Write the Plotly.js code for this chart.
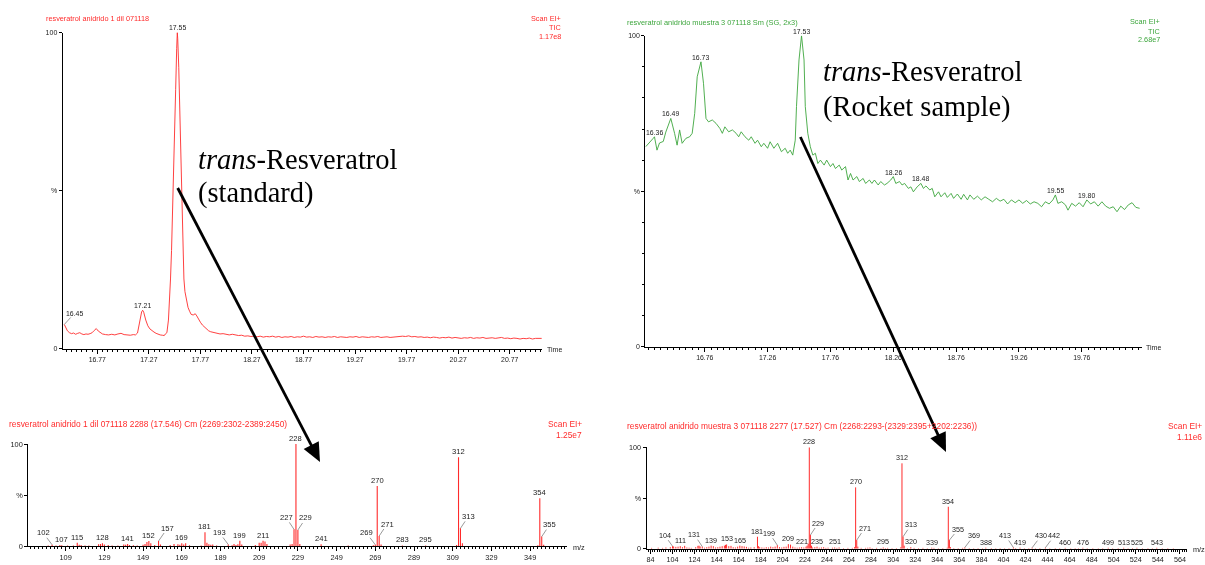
<!DOCTYPE html>
<html><head><meta charset="utf-8">
<script src="https://cdn.plot.ly/plotly-3.0.1.min.js"></script>
<style>html,body{margin:0;padding:0;background:#fff}#chart{width:1205px;height:565px;will-change:transform}
#chart svg{will-change:transform}</style>
</head><body><div id="chart"></div>
<script>
// ---------- DATA ----------
// Standard chromatogram (TIC), time in min, intensity in %
const stdTime = [16.45,16.46,16.48,16.50,16.52,16.54,16.56,16.58,16.60,16.62,
16.64,16.66,16.68,16.70,16.72,16.74,16.76,16.78,16.80,16.82,
16.85,16.88,16.91,16.94,16.97,17.00,17.03,17.06,17.09,17.12,
17.14,17.16,17.18,17.20,17.21,17.22,17.24,17.26,17.28,17.30,
17.32,17.34,17.36,17.38,17.40,17.42,17.43,17.445,17.46,17.47,
17.48,17.49,17.50,17.51,17.52,17.53,17.54,17.546,17.55,17.56,
17.57,17.58,17.59,17.60,17.61,17.62,17.635,17.65,17.665,17.68,
17.70,17.72,17.735,17.75,17.77,17.79,17.81,17.83,17.85,17.87,
17.90,17.93,17.96,17.99,18.02,18.05,18.08,18.11,18.14,18.17,
18.20,18.23,18.26,18.29,18.32,18.35,18.38,18.41,18.44,18.47,
18.50,18.53,18.56,18.59,18.62,18.65,18.68,18.71,18.74,18.77,
18.80,18.83,18.86,18.89,18.92,18.95,18.98,19.01,19.04,19.07,
19.10,19.13,19.16,19.19,19.22,19.25,19.28,19.31,19.34,19.37,
19.40,19.43,19.46,19.49,19.52,19.55,19.58,19.61,19.64,19.67,
19.70,19.73,19.76,19.79,19.82,19.85,19.88,19.91,19.94,19.97,
20.00,20.03,20.06,20.09,20.12,20.15,20.18,20.21,20.24,20.27,
20.30,20.33,20.36,20.39,20.42,20.45,20.48,20.51,20.54,20.57,
20.60,20.63,20.66,20.69,20.72,20.75,20.78,20.81,20.84,20.87,
20.90,20.93,20.96,20.99,21.02,21.05,21.08];
const stdTic = [7.6,6.8,5.6,5.0,4.7,4.9,4.5,4.8,5.0,4.6,
4.4,4.6,4.5,4.7,5.0,5.7,6.3,5.5,4.9,4.6,
4.4,4.3,4.5,4.3,4.6,4.8,4.4,4.3,4.2,4.4,
4.3,4.9,8.9,11.6,12.1,11.5,9.0,7.2,6.2,5.6,
5.2,4.8,4.5,4.3,4.2,4.1,4.6,5.0,9,14,
22,31,42,53,68,82,95,100,98,89,
74,57,42,30,22,18,15,13,11.8,10.8,
10.6,11.0,10.3,9.2,8.3,7.4,6.8,6.1,5.6,5.3,
5.0,4.8,4.6,4.7,4.4,4.3,4.5,4.2,4.1,4.2,
3.9,4.0,3.8,3.9,3.7,3.9,3.6,3.8,3.7,3.9,
3.6,3.8,3.5,3.7,3.6,3.8,3.5,3.7,3.6,3.9,
3.6,3.7,3.5,3.8,3.6,3.7,3.5,3.7,3.6,3.8,
3.5,3.7,3.6,3.5,3.7,3.6,3.8,3.5,3.7,3.6,
3.5,3.7,3.6,3.8,3.5,3.6,3.7,3.5,3.6,3.8,
3.7,3.9,3.8,4.0,3.7,3.8,3.6,3.7,3.5,3.6,
3.4,3.6,3.5,3.3,3.5,3.4,3.6,3.3,3.5,3.4,
3.2,3.4,3.3,3.5,3.2,3.4,3.3,3.5,3.2,3.3,
3.4,3.2,3.3,3.5,3.2,3.3,3.1,3.3,3.2,3.0,
3.2,3.1,3.3,3.0,3.2,3.1,3.2];
const stdPeakLabels = [16.45, 17.21, 17.55];

// Rocket sample chromatogram (TIC)
const smpTime = [16.29,16.32,16.35,16.36,16.38,16.40,16.43,16.45,16.49,16.52,
16.54,16.56,16.58,16.61,16.64,16.66,16.68,16.70,16.73,16.75,
16.77,16.79,16.82,16.85,16.88,16.90,16.92,16.95,16.98,17.01,
17.03,17.05,17.08,17.11,17.13,17.16,17.18,17.21,17.23,17.26,
17.28,17.31,17.34,17.37,17.40,17.42,17.44,17.46,17.48,17.49,
17.51,17.53,17.55,17.56,17.58,17.60,17.62,17.64,17.66,17.68,
17.71,17.73,17.76,17.78,17.80,17.83,17.85,17.88,17.90,17.92,
17.94,17.97,17.99,18.02,18.04,18.07,18.09,18.11,18.14,18.16,
18.19,18.21,18.24,18.26,18.28,18.31,18.33,18.35,18.38,18.40,
18.42,18.45,18.48,18.50,18.52,18.55,18.57,18.59,18.62,18.64,
18.67,18.69,18.72,18.74,18.77,18.80,18.82,18.85,18.87,18.90,
18.93,18.96,18.99,19.02,19.05,19.08,19.11,19.14,19.17,19.20,
19.23,19.26,19.29,19.32,19.35,19.38,19.41,19.44,19.47,19.50,
19.53,19.55,19.57,19.60,19.63,19.65,19.68,19.71,19.74,19.77,
19.80,19.83,19.86,19.89,19.92,19.95,19.98,20.01,20.04,20.07,
20.10,20.13,20.16,20.19,20.22];
const smpTic = [64.3,65.5,67,67.5,63.2,65.5,66,69,73.4,68.6,
64.8,69.7,65.4,67,67.5,68.6,75,86.8,91.6,84.7,
73.4,72.3,72.9,71.8,70.2,68.6,70.7,69.1,69.7,68.6,
67.5,69.1,67.5,66.4,67.5,65.4,66.4,64.3,65.4,63.8,
65.9,63.8,65.4,62.7,63.8,62.2,63.2,61.6,66.4,77.2,
92.2,100,92.2,77.2,68.6,64.3,61.6,62.2,58.9,60,
58.4,60,57.9,58.9,57.3,58.4,56.8,57.9,53.6,55.7,
53.6,54.7,53.1,54.1,52.5,53.6,52.5,53.6,52,53.1,
52,52.5,53.6,54.7,52.5,53.1,52,52.5,50.9,51.4,
49.8,51.4,52.5,50.9,51.7,50.4,50.9,48.2,49.8,48.2,
49.5,48,49.3,47.7,49.1,47.4,49,47.2,48.8,47.4,
48.4,47.2,48.2,47.4,46.6,47.7,46.8,47.4,45.9,47.2,
46.3,47.2,46.1,47,45.9,46.6,46.1,45,46.6,45.9,
47.2,48.8,46.1,46.6,45.6,43.9,46.1,45.2,46.3,45,
47.2,45.9,46.6,45.2,46.6,45.2,44.5,45,43.4,45.2,
44.1,45.6,46.3,44.8,44.5];
const smpPeakLabels = [16.36, 16.49, 16.73, 17.53, 18.26, 18.48, 19.55, 19.80];

// Standard mass spectrum (scan 2288)
const stdMz = [100,102,104,106,107,110,113,115,116,117,
119,121,126,127,128,129,131,133,136,139,
140,141,142,144,146,149,150,151,152,153,
155,157,158,163,165,167,168,169,170,171,
173,179,181,182,183,184,185,187,193,195,
196,197,198,199,200,207,209,210,211,212,
213,225,226,227,228,229,230,241,255,268,
269,270,271,272,283,295,311,312,313,314,
353,354,355,356];
const stdInt = [0.6,1.2,0.5,1.0,0.8,0.5,0.6,3.3,1.2,1.0,
0.6,0.4,1.6,2.0,2.6,1.4,1.0,0.6,0.5,1.5,
1.2,2.0,1.0,0.8,0.6,1.2,2.0,3.9,4.9,2.6,
1.0,4.9,1.5,1.0,2.0,1.6,1.2,2.6,1.5,2.6,
0.8,0.6,13.4,3.3,1.8,1.2,1.5,0.6,1.5,0.8,
2.0,1.0,1.6,5.2,1.5,1.0,3.3,3.3,5.2,4.5,
2.0,1.5,2.0,16.3,100,15.7,2.0,1.6,0.5,0.8,
1.2,58.8,9.8,1.5,0.6,0.6,1.0,86.9,17.3,2.6,
0.8,46.7,9.2,1.2];
const stdMzLabels = [102,107,115,128,141,152,157,169,181,193,199,211,227,228,229,241,269,270,271,283,295,312,313,354,355];

// Rocket sample mass spectrum (scan 2277)
const smpMz = [85,91,95,98,102,104,105,107,109,111,
113,115,117,119,121,125,127,128,129,131,
133,135,137,139,141,143,145,147,149,151,
152,153,155,157,159,161,163,165,167,169,
171,173,175,178,181,182,183,185,187,189,
191,193,195,197,199,201,203,205,207,209,
211,213,215,217,219,221,223,225,226,227,
228,229,230,231,233,235,237,239,241,243,
245,249,251,253,255,259,263,267,269,270,
271,272,275,279,281,283,285,289,293,295,
297,299,303,307,311,312,313,314,317,320,
323,327,331,335,339,341,345,349,353,354,
355,356,359,363,367,369,373,377,381,385,
388,393,397,401,405,409,413,415,419,423,
427,430,433,437,442,446,451,455,460,465,
469,472,476,480,485,490,494,499,503,508,
513,517,521,525,530,535,539,543,548,553,
558];
const smpInt = [0.8,1.0,0.8,1.2,1.5,2.5,2.2,1.8,2.0,2.5,
1.5,2.8,1.2,1.0,0.8,1.5,2.8,3.0,2.2,2.0,
1.0,1.5,2.0,3.0,2.5,1.2,1.5,2.0,2.5,3.0,
3.8,4.2,2.5,2.8,1.5,1.2,2.0,3.0,2.5,2.2,
1.8,1.0,1.2,1.5,11.8,2.5,1.5,1.2,1.0,1.5,
1.2,2.0,1.5,2.0,3.5,1.5,1.2,1.8,2.0,4.5,
4.0,2.0,1.2,1.0,1.2,1.5,1.2,2.0,3.0,5.0,
100,13.5,3.0,1.2,1.5,2.0,1.0,1.2,1.5,0.8,
1.0,1.0,1.2,0.8,1.2,0.6,0.8,0.8,1.5,60.5,
8.5,2.0,0.8,0.8,1.0,1.2,0.6,0.8,0.6,1.2,
0.6,0.8,0.6,0.6,1.5,84.2,11.8,3.0,0.6,1.5,
0.8,0.6,0.8,0.5,1.0,0.8,0.5,0.6,1.0,41.4,
8.5,1.5,0.6,0.6,0.8,1.2,0.6,0.5,0.6,0.5,
1.0,0.6,0.5,0.6,0.5,0.6,1.2,0.6,1.0,0.5,
0.6,1.0,0.5,0.6,1.0,0.5,0.6,0.5,0.8,0.5,
0.6,0.5,0.9,0.5,0.6,0.5,0.6,0.9,0.5,0.6,
0.9,0.5,0.6,0.9,0.5,0.6,0.5,0.9,0.5,0.6,
0.5];
const smpMzLabels = [104,111,131,139,153,165,181,199,209,221,228,229,235,251,270,271,295,312,313,320,339,354,355,369,388,413,419,430,442,460,476,499,513,525,543];

const yTickVals = [0, 50, 100];
const yTickText = ['0', '%', '100'];

// ---------- STYLE / GEOMETRY ----------
const W = 1205, H = 565;
const PX = v => v / W, PY = v => 1 - v / H;
const SANS = 'Liberation Sans, Arial, sans-serif';
const SERIF = 'Liberation Serif, Times New Roman, serif';
const RED = '#ff2b2b', GREEN = '#3da63d', INK = '#222';

function xAxis(x0, x1, range, anchor, tick0, dtick, minorDtick, fmt, fs) {
  return {domain:[PX(x0), PX(x1)], range, anchor, tickmode:'linear', tick0, dtick,
    ticks:'outside', ticklen:4, tickwidth:1, tickcolor:'#000', showline:true, linecolor:'#000', linewidth:1,
    showgrid:false, zeroline:false, tickformat:fmt, tickfont:{family:SANS, size:fs, color:INK},
    minor:{tickmode:'linear', tick0, dtick:minorDtick, ticks:'outside', ticklen:2, tickcolor:'#000', showgrid:false},
    fixedrange:true};
}
function yAxis(top, bottom, anchor, minor, fs) {
  const a = {domain:[PY(bottom), PY(top)], range:[0,100], anchor, tickmode:'array',
    tickvals:yTickVals, ticktext:yTickText, ticks:'outside', ticklen:3, tickwidth:1, tickcolor:'#000',
    showline:true, linecolor:'#000', linewidth:1, showgrid:false, zeroline:false,
    tickfont:{family:SANS, size:fs, color:INK}, fixedrange:true};
  if (minor) a.minor = {tickmode:'linear', tick0:0, dtick:10, ticks:'outside', ticklen:2, tickcolor:'#000', showgrid:false};
  return a;
}

// stick spectra built from the m/z and intensity arrays
function sticks(mz, inten) {
  const x = [], y = [];
  mz.forEach((m, i) => { x.push(m, m, null); y.push(0, inten[i], null); });
  return {x, y};
}
const stdSticks = sticks(stdMz, stdInt), smpSticks = sticks(smpMz, smpInt);

const traces = [
  {type:'scatter', mode:'lines', x:stdTime, y:stdTic, xaxis:'x', yaxis:'y', line:{color:RED, width:0.9}, cliponaxis:false, hoverinfo:'skip'},
  {type:'scatter', mode:'lines', x:smpTime, y:smpTic, xaxis:'x2', yaxis:'y2', line:{color:GREEN, width:0.9}, cliponaxis:false, hoverinfo:'skip'},
  {type:'scatter', mode:'lines', x:stdSticks.x, y:stdSticks.y, xaxis:'x3', yaxis:'y3', line:{color:RED, width:1.1}, connectgaps:false, cliponaxis:false, hoverinfo:'skip'},
  {type:'scatter', mode:'lines', x:smpSticks.x, y:smpSticks.y, xaxis:'x4', yaxis:'y4', line:{color:RED, width:1}, connectgaps:false, cliponaxis:false, hoverinfo:'skip'}
];

const ann = [];
function txt(x, y, text, opts) {
  ann.push(Object.assign({xref:'paper', yref:'paper', x:PX(x), y:PY(y), text, showarrow:false,
    xanchor:'left', yanchor:'middle', borderpad:0, font:{family:SANS, size:7.3, color:INK}}, opts||{}));
}

// headers
txt(45.4, 18.3, 'resveratrol anidrido 1 dil 071118', {font:{family:SANS, size:7.3, color:RED}});
txt(562.3, 18.3, 'Scan EI+', {xanchor:'right', font:{family:SANS, size:7.3, color:RED}});
txt(562.3, 27.7, 'TIC', {xanchor:'right', font:{family:SANS, size:7.3, color:RED}});
txt(562.3, 36.7, '1.17e8', {xanchor:'right', font:{family:SANS, size:7.3, color:RED}});
txt(625.6, 22.3, 'resveratrol anidrido muestra 3 071118 Sm (SG, 2x3)', {font:{family:SANS, size:7.4, color:GREEN}});
txt(1160.9, 22, 'Scan EI+', {xanchor:'right', font:{family:SANS, size:7.3, color:GREEN}});
txt(1160.9, 31, 'TIC', {xanchor:'right', font:{family:SANS, size:7.3, color:GREEN}});
txt(1160.9, 39.7, '2.68e7', {xanchor:'right', font:{family:SANS, size:7.3, color:GREEN}});
txt(7.7, 424.3, 'resveratrol anidrido 1 dil 071118 2288 (17.546) Cm (2269:2302-2389:2450)', {font:{family:SANS, size:8.4, color:RED}});
txt(583, 424.3, 'Scan EI+', {xanchor:'right', font:{family:SANS, size:8.4, color:RED}});
txt(583, 435.3, '1.25e7', {xanchor:'right', font:{family:SANS, size:8.4, color:RED}});
txt(626.4, 426, 'resveratrol anidrido muestra 3 071118 2277 (17.527) Cm (2268:2293-(2329:2395+2202:2236))', {font:{family:SANS, size:8.4, color:RED}});
txt(1203, 426, 'Scan EI+', {xanchor:'right', font:{family:SANS, size:8.4, color:RED}});
txt(1203, 437.3, '1.11e6', {xanchor:'right', font:{family:SANS, size:8.4, color:RED}});
// axis end labels
txt(546, 349, 'Time', {font:{family:SANS, size:7, color:INK}});
txt(1144.6, 347.7, 'Time', {font:{family:SANS, size:7, color:INK}});
txt(571.7, 547, 'm/z', {font:{family:SANS, size:7.3, color:INK}});
txt(1191.7, 549.5, 'm/z', {font:{family:SANS, size:7.3, color:INK}});
// big labels
const bigFont = {family:SERIF, size:28.5, color:'#000'};
txt(197, 159.5, '<i>trans</i>-Resveratrol', {font:bigFont});
txt(197, 193.5, '(standard)', {font:bigFont});
txt(822, 71.5, '<i>trans</i>-Resveratrol', {font:bigFont});
txt(822, 106.5, '(Rocket sample)', {font:bigFont});

// chromatogram peak labels
function apex(times, vals, t) {
  let best = -1;
  for (let i = 0; i < times.length; i++) if (Math.abs(times[i] - t) <= 0.016 && vals[i] > best) best = vals[i];
  return best;
}
const chromLeader = {'16.45':[10,-11]};
function chromLabels(times, vals, labels, xr, yr) {
  labels.forEach(t => {
    const v = apex(times, vals, t), key = t.toFixed(2), off = chromLeader[key];
    const a = {xref:xr, yref:yr, x:t, y:v, text:key, borderpad:0, font:{family:SANS, size:6.9, color:INK}};
    if (off && xr === 'x') Object.assign(a, {showarrow:true, arrowhead:0, arrowwidth:0.6, arrowcolor:'#555', ax:off[0], ay:off[1], axref:'pixel', ayref:'pixel'});
    else Object.assign(a, {showarrow:false, xanchor:'center', yanchor:'bottom', yshift:0});
    ann.push(a);
  });
}
chromLabels(stdTime, stdTic, stdPeakLabels, 'x', 'y');
chromLabels(smpTime, smpTic, smpPeakLabels, 'x2', 'y2');

// spectrum peak labels
const stdLeader = {102:[-9,-12],157:[9,-13],193:[-9,-12],227:[-8,-12],229:[8,-12],269:[-9,-12],271:[8,-12],313:[8,-12],355:[8,-12]};
const smpLeader = {104:[-8,-11],131:[-8,-12],199:[-8,-12],229:[8,-12],271:[8,-12],313:[8,-12],355:[9,-11],369:[9,-12],413:[-8,-12],430:[9,-12],442:[9,-12]};
function msLabels(mz, inten, labels, leader, xr, yr, fs) {
  labels.forEach(m => {
    const v = inten[mz.indexOf(m)], off = leader[m];
    const a = {xref:xr, yref:yr, x:m, y:v, text:String(m), borderpad:0, font:{family:SANS, size:fs, color:INK}};
    if (off) Object.assign(a, {showarrow:true, arrowhead:0, arrowwidth:0.6, arrowcolor:'#555', ax:off[0], ay:off[1], axref:'pixel', ayref:'pixel'});
    else Object.assign(a, {showarrow:false, xanchor:'center', yanchor:'bottom'});
    ann.push(a);
  });
}
msLabels(stdMz, stdInt, stdMzLabels, stdLeader, 'x3', 'y3', 7.6);
msLabels(smpMz, smpInt, smpMzLabels, smpLeader, 'x4', 'y4', 7.2);

// arrows (pixel geometry -> paper)
const shapes = [];
function arrow(tx, ty, hx, hy) {
  const L = 19, Wd = 17;
  const dx = hx - tx, dy = hy - ty, len = Math.hypot(dx, dy), ux = dx/len, uy = dy/len;
  const bx = hx - ux*L, by = hy - uy*L, nx = -uy, ny = ux;
  shapes.push({type:'line', xref:'paper', yref:'paper', x0:PX(tx), y0:PY(ty), x1:PX(bx+ux*2), y1:PY(by+uy*2), line:{color:'#000', width:2.8}});
  const p = [[hx,hy],[bx+nx*Wd/2, by+ny*Wd/2],[bx-nx*Wd/2, by-ny*Wd/2]];
  shapes.push({type:'path', xref:'paper', yref:'paper', path:'M'+p.map(q=>PX(q[0])+','+PY(q[1])).join(' L')+' Z', fillcolor:'#000', line:{width:0}});
}
arrow(177.7, 188, 320, 462);
arrow(800.4, 137, 946, 452);

const layout = {
  width:W, height:H, margin:{l:0,r:0,t:0,b:0}, paper_bgcolor:'#fff', plot_bgcolor:'rgba(0,0,0,0)',
  showlegend:false, font:{family:SANS, size:7.3, color:INK},
  xaxis: xAxis(62.7, 542.3, [16.4344, 21.086], 'y', 16.77, 0.5, 0.05, '.2f', 6.9),
  yaxis: yAxis(32.5, 348.5, 'x', false, 7),
  xaxis2: xAxis(645.3, 1142, [16.287, 20.239], 'y2', 16.76, 0.5, 0.05, '.2f', 6.9),
  yaxis2: yAxis(35.7, 346.7, 'x2', true, 7),
  xaxis3: xAxis(28.3, 566.7, [89.7, 367.9], 'y3', 109, 20, 2, 'd', 7.4),
  yaxis3: yAxis(444, 546, 'x3', false, 7.4),
  xaxis4: xAxis(646.5, 1187, [80.4, 570.4], 'y4', 84, 20, 2, 'd', 7.2),
  yaxis4: yAxis(447.3, 548.7, 'x4', false, 7.2),
  annotations: ann, shapes: shapes
};
Plotly.newPlot('chart', traces, layout, {staticPlot:true, displayModeBar:false});
</script>
</body></html>
